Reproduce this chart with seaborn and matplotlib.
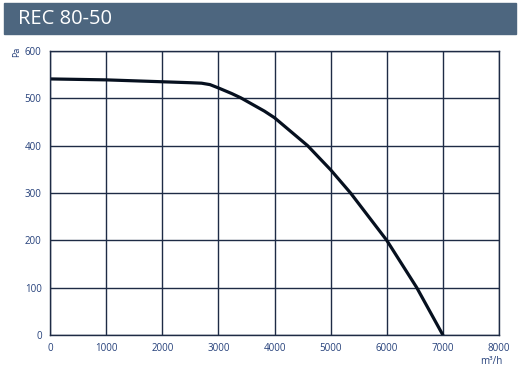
import matplotlib
matplotlib.use("Agg")
import matplotlib.pyplot as plt
import seaborn as sns
import pandas as pd
from matplotlib.patches import Rectangle

# fan curve
flow = [0, 1000, 2000, 2500, 2700, 2850, 3000, 3240, 3400, 3820, 4000, 4590, 5000, 5355, 6000, 6535, 7000]
pressure = [541, 539, 535, 533, 532, 529, 522, 510, 501, 473, 459, 400, 349, 300, 200, 100, 0]
x_ticks = [0, 1000, 2000, 3000, 4000, 5000, 6000, 7000, 8000]
y_ticks = [0, 100, 200, 300, 400, 500, 600]

grid_col = "#1e2b45"
tick_col = "#25407a"

sns.set_style("white")
plt.rcParams["font.family"] = ["Open Sans", "DejaVu Sans"]

fig = plt.figure(figsize=(5.26, 3.78), dpi=100)
ax = fig.add_axes([50 / 526, 43 / 378, 449 / 526, 284 / 378])

df = pd.DataFrame({"flow": flow, "pressure": pressure})
sns.lineplot(data=df, x="flow", y="pressure", ax=ax, color="#06101f", linewidth=2.3)

ax.set_xlim(0, 8000)
ax.set_ylim(0, 600)
ax.set_xticks(x_ticks)
ax.set_yticks(y_ticks)
ax.grid(True, color=grid_col, linewidth=1.0)
for s in ax.spines.values():
    s.set_color(grid_col)
    s.set_linewidth(1.0)
ax.tick_params(length=0, labelsize=7, colors=tick_col, pad=6)
ax.set_xlabel("")
ax.set_ylabel("")

fig.text(17 / 526, 1 - 52 / 378, "Pa", rotation=90, fontsize=6.5, color=tick_col, ha="center", va="center")
fig.text(491 / 526, 1 - 362 / 378, "m³/h", fontsize=7, color=tick_col, ha="center", va="center")

# header bar
fig.patches.append(Rectangle((4 / 526, 1 - 34 / 378), 512 / 526, 31 / 378,
                             transform=fig.transFigure, color="#4d667f", zorder=0))
fig.text(18 / 526, 1 - 19 / 378, "REC 80-50", fontsize=14.5, color="white", va="center", ha="left")

fig.savefig("out.png", dpi=100)
